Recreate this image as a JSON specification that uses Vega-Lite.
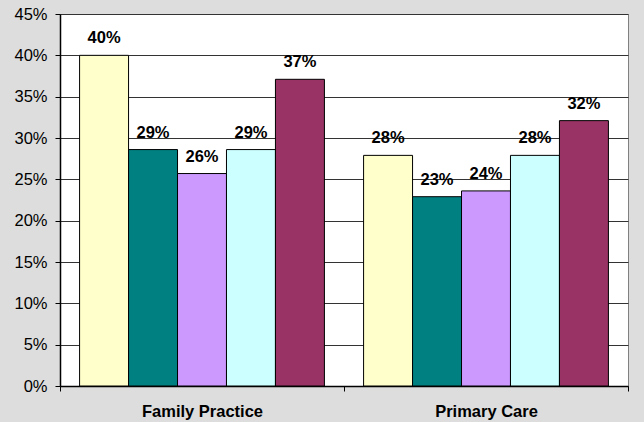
{
  "$schema": "https://vega.github.io/schema/vega-lite/v6.json",
  "width": 568,
  "height": 372,
  "autosize": {"type": "none"},
  "padding": {"left": 60, "top": 14, "right": 16, "bottom": 36},
  "background": "#dddddd",
  "config": {
    "view": {"fill": "white", "stroke": "#808080", "strokeWidth": 1},
    "font": "Liberation Sans"
  },
  "data": {
    "values": [
      {"group": "Family Practice", "s": "s1", "v": 0.400},
      {"group": "Family Practice", "s": "s2", "v": 0.286},
      {"group": "Family Practice", "s": "s3", "v": 0.257},
      {"group": "Family Practice", "s": "s4", "v": 0.286},
      {"group": "Family Practice", "s": "s5", "v": 0.371},
      {"group": "Primary Care", "s": "s1", "v": 0.279},
      {"group": "Primary Care", "s": "s2", "v": 0.229},
      {"group": "Primary Care", "s": "s3", "v": 0.236},
      {"group": "Primary Care", "s": "s4", "v": 0.279},
      {"group": "Primary Care", "s": "s5", "v": 0.321}
    ]
  },
  "encoding": {
    "x": {
      "field": "group", "type": "nominal", "sort": null,
      "scale": {"paddingInner": 0, "paddingOuter": 0},
      "axis": {
        "title": null, "labelAngle": 0, "labelFont": "Liberation Sans", "labelFontSize": 16.5,
        "labelFontWeight": "bold", "labelColor": "black", "labelPadding": 12,
        "tickBand": "extent", "tickColor": "black", "tickSize": 5,
        "domainColor": "black", "domainWidth": 1.5, "grid": false
      }
    },
    "xOffset": {
      "field": "s", "type": "nominal",
      "scale": {"paddingInner": 0, "paddingOuter": 0.4}
    },
    "y": {
      "field": "v", "type": "quantitative",
      "scale": {"domain": [0, 0.45], "nice": false},
      "axis": {
        "title": null, "format": ".0%", "values": [0, 0.05, 0.1, 0.15, 0.2, 0.25, 0.3, 0.35, 0.4, 0.45],
        "labelFont": "Liberation Sans", "labelFontSize": 16.5, "labelColor": "black",
        "labelPadding": 8, "tickColor": "black", "tickSize": 5,
        "domainColor": "black", "domainWidth": 1.5,
        "grid": true, "gridColor": "#333333", "gridWidth": 1
      }
    }
  },
  "layer": [
    {
      "mark": {"type": "bar", "stroke": "black", "strokeWidth": 1},
      "encoding": {
        "color": {
          "field": "s", "type": "nominal", "legend": null,
          "scale": {"domain": ["s1", "s2", "s3", "s4", "s5"],
                    "range": ["#FFFFCC", "#008080", "#CC99FF", "#CCFFFF", "#993366"]}
        }
      }
    },
    {
      "mark": {"type": "text", "baseline": "alphabetic", "dy": -12, "fontWeight": "bold", "fontSize": 16.5, "font": "Liberation Sans", "color": "black"},
      "encoding": {
        "text": {"field": "v", "type": "quantitative", "format": ".0%"}
      }
    }
  ]
}
